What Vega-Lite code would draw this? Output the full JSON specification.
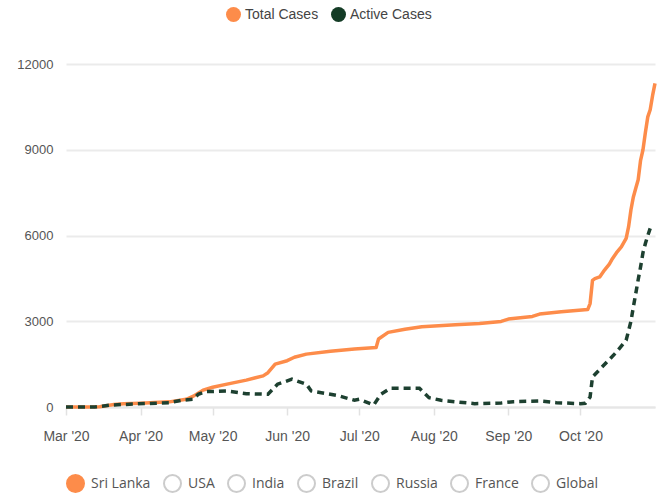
{
  "$schema": "https://vega.github.io/schema/vega-lite/v6.json",
  "width": 589,
  "height": 343,
  "autosize": {"type": "none"},
  "padding": {"left": 66, "top": 64, "right": 4, "bottom": 88},
  "background": "white",
  "config": {"view": {"stroke": null}, "font": "Liberation Sans"},
  "datasets": {
    "cases": [
      {"date": "2020/03/01", "series": "Total Cases", "value": 1},
      {"date": "2020/03/10", "series": "Total Cases", "value": 1},
      {"date": "2020/03/15", "series": "Total Cases", "value": 10},
      {"date": "2020/03/21", "series": "Total Cases", "value": 90},
      {"date": "2020/03/25", "series": "Total Cases", "value": 110},
      {"date": "2020/04/01", "series": "Total Cases", "value": 135},
      {"date": "2020/04/07", "series": "Total Cases", "value": 160},
      {"date": "2020/04/13", "series": "Total Cases", "value": 180},
      {"date": "2020/04/20", "series": "Total Cases", "value": 270},
      {"date": "2020/04/23", "series": "Total Cases", "value": 380},
      {"date": "2020/04/27", "series": "Total Cases", "value": 590},
      {"date": "2020/05/01", "series": "Total Cases", "value": 690},
      {"date": "2020/05/07", "series": "Total Cases", "value": 800},
      {"date": "2020/05/15", "series": "Total Cases", "value": 940},
      {"date": "2020/05/22", "series": "Total Cases", "value": 1090},
      {"date": "2020/05/24", "series": "Total Cases", "value": 1200},
      {"date": "2020/05/27", "series": "Total Cases", "value": 1500},
      {"date": "2020/06/01", "series": "Total Cases", "value": 1620},
      {"date": "2020/06/04", "series": "Total Cases", "value": 1740},
      {"date": "2020/06/09", "series": "Total Cases", "value": 1850},
      {"date": "2020/06/19", "series": "Total Cases", "value": 1950},
      {"date": "2020/06/29", "series": "Total Cases", "value": 2030},
      {"date": "2020/07/08", "series": "Total Cases", "value": 2085},
      {"date": "2020/07/09", "series": "Total Cases", "value": 2380},
      {"date": "2020/07/13", "series": "Total Cases", "value": 2610},
      {"date": "2020/07/20", "series": "Total Cases", "value": 2720},
      {"date": "2020/07/27", "series": "Total Cases", "value": 2810},
      {"date": "2020/08/10", "series": "Total Cases", "value": 2875},
      {"date": "2020/08/20", "series": "Total Cases", "value": 2925},
      {"date": "2020/08/29", "series": "Total Cases", "value": 2995},
      {"date": "2020/09/01", "series": "Total Cases", "value": 3075},
      {"date": "2020/09/11", "series": "Total Cases", "value": 3170},
      {"date": "2020/09/14", "series": "Total Cases", "value": 3250},
      {"date": "2020/09/23", "series": "Total Cases", "value": 3330},
      {"date": "2020/10/04", "series": "Total Cases", "value": 3410},
      {"date": "2020/10/05", "series": "Total Cases", "value": 3620},
      {"date": "2020/10/06", "series": "Total Cases", "value": 4430},
      {"date": "2020/10/07", "series": "Total Cases", "value": 4490},
      {"date": "2020/10/09", "series": "Total Cases", "value": 4550},
      {"date": "2020/10/11", "series": "Total Cases", "value": 4790},
      {"date": "2020/10/13", "series": "Total Cases", "value": 5000},
      {"date": "2020/10/14", "series": "Total Cases", "value": 5150},
      {"date": "2020/10/16", "series": "Total Cases", "value": 5400},
      {"date": "2020/10/18", "series": "Total Cases", "value": 5600},
      {"date": "2020/10/20", "series": "Total Cases", "value": 5900},
      {"date": "2020/10/21", "series": "Total Cases", "value": 6300},
      {"date": "2020/10/22", "series": "Total Cases", "value": 6900},
      {"date": "2020/10/23", "series": "Total Cases", "value": 7350},
      {"date": "2020/10/24", "series": "Total Cases", "value": 7650},
      {"date": "2020/10/25", "series": "Total Cases", "value": 7950},
      {"date": "2020/10/26", "series": "Total Cases", "value": 8630},
      {"date": "2020/10/27", "series": "Total Cases", "value": 9000},
      {"date": "2020/10/28", "series": "Total Cases", "value": 9600},
      {"date": "2020/10/29", "series": "Total Cases", "value": 10150},
      {"date": "2020/10/30", "series": "Total Cases", "value": 10400},
      {"date": "2020/10/31", "series": "Total Cases", "value": 10900},
      {"date": "2020/11/01", "series": "Total Cases", "value": 11320},
      {"date": "2020/03/01", "series": "Active Cases", "value": 0},
      {"date": "2020/03/13", "series": "Active Cases", "value": 0},
      {"date": "2020/03/20", "series": "Active Cases", "value": 70},
      {"date": "2020/03/31", "series": "Active Cases", "value": 110},
      {"date": "2020/04/13", "series": "Active Cases", "value": 150},
      {"date": "2020/04/18", "series": "Active Cases", "value": 235},
      {"date": "2020/04/23", "series": "Active Cases", "value": 270},
      {"date": "2020/04/25", "series": "Active Cases", "value": 445},
      {"date": "2020/04/28", "series": "Active Cases", "value": 537},
      {"date": "2020/05/07", "series": "Active Cases", "value": 560},
      {"date": "2020/05/15", "series": "Active Cases", "value": 467},
      {"date": "2020/05/24", "series": "Active Cases", "value": 445},
      {"date": "2020/05/28", "series": "Active Cases", "value": 797},
      {"date": "2020/06/03", "series": "Active Cases", "value": 972},
      {"date": "2020/06/09", "series": "Active Cases", "value": 797},
      {"date": "2020/06/11", "series": "Active Cases", "value": 561},
      {"date": "2020/06/22", "series": "Active Cases", "value": 400},
      {"date": "2020/06/29", "series": "Active Cases", "value": 235},
      {"date": "2020/07/01", "series": "Active Cases", "value": 270},
      {"date": "2020/07/07", "series": "Active Cases", "value": 70},
      {"date": "2020/07/10", "series": "Active Cases", "value": 445},
      {"date": "2020/07/14", "series": "Active Cases", "value": 656},
      {"date": "2020/07/26", "series": "Active Cases", "value": 656},
      {"date": "2020/07/30", "series": "Active Cases", "value": 327},
      {"date": "2020/08/04", "series": "Active Cases", "value": 234},
      {"date": "2020/08/18", "series": "Active Cases", "value": 117},
      {"date": "2020/08/29", "series": "Active Cases", "value": 140},
      {"date": "2020/09/03", "series": "Active Cases", "value": 187},
      {"date": "2020/09/14", "series": "Active Cases", "value": 210},
      {"date": "2020/09/21", "series": "Active Cases", "value": 152},
      {"date": "2020/10/01", "series": "Active Cases", "value": 117},
      {"date": "2020/10/03", "series": "Active Cases", "value": 130},
      {"date": "2020/10/05", "series": "Active Cases", "value": 350},
      {"date": "2020/10/06", "series": "Active Cases", "value": 1050},
      {"date": "2020/10/08", "series": "Active Cases", "value": 1225},
      {"date": "2020/10/12", "series": "Active Cases", "value": 1575},
      {"date": "2020/10/16", "series": "Active Cases", "value": 1925},
      {"date": "2020/10/20", "series": "Active Cases", "value": 2335},
      {"date": "2020/10/22", "series": "Active Cases", "value": 3000},
      {"date": "2020/10/23", "series": "Active Cases", "value": 3500},
      {"date": "2020/10/24", "series": "Active Cases", "value": 3970},
      {"date": "2020/10/25", "series": "Active Cases", "value": 4450},
      {"date": "2020/10/26", "series": "Active Cases", "value": 4900},
      {"date": "2020/10/27", "series": "Active Cases", "value": 5400},
      {"date": "2020/10/28", "series": "Active Cases", "value": 5720},
      {"date": "2020/10/29", "series": "Active Cases", "value": 6000},
      {"date": "2020/10/30", "series": "Active Cases", "value": 6250}
    ],
    "seriesNames": [{"series": "Total Cases"}, {"series": "Active Cases"}],
    "countries": [
      {"country": "Sri Lanka"}, {"country": "USA"}, {"country": "India"}, {"country": "Brazil"},
      {"country": "Russia"}, {"country": "France"}, {"country": "Global"}
    ]
  },
  "layer": [
    {
      "data": {"name": "cases"},
      "transform": [{"filter": "datum.series == 'Total Cases'"}],
      "mark": {"type": "line", "color": "#fd8c4a", "strokeWidth": 3.5, "strokeJoin": "round"},
      "encoding": {
        "x": {
          "field": "date", "type": "temporal",
          "scale": {"domain": [{"year": 2020, "month": 3, "date": 1}, {"year": 2020, "month": 11, "date": 1}]},
          "axis": {
            "title": null,
            "values": [
              {"year": 2020, "month": 3, "date": 1}, {"year": 2020, "month": 4, "date": 1},
              {"year": 2020, "month": 5, "date": 1}, {"year": 2020, "month": 6, "date": 1},
              {"year": 2020, "month": 7, "date": 1}, {"year": 2020, "month": 8, "date": 1},
              {"year": 2020, "month": 9, "date": 1}, {"year": 2020, "month": 10, "date": 1}
            ],
            "format": "%b '%y",
            "labelFont": "Liberation Sans", "labelFontSize": 14, "labelColor": "#555",
            "labelPadding": 14, "labelFlush": false, "labelOverlap": false,
            "tickSize": 8, "tickColor": "#e2e2e2", "tickWidth": 1.5,
            "domainColor": "#e6e6e6", "domainWidth": 2, "grid": false
          }
        },
        "y": {
          "field": "value", "type": "quantitative",
          "scale": {"domain": [0, 12000], "nice": false},
          "axis": {
            "title": null, "values": [0, 3000, 6000, 9000, 12000], "format": "d",
            "domain": false, "ticks": false, "tickSize": 0, "labelPadding": 13,
            "labelFont": "Liberation Sans", "labelFontSize": 13, "labelColor": "#555",
            "grid": true, "gridColor": "#ebebeb", "gridWidth": 2
          }
        }
      }
    },
    {
      "data": {"name": "cases"},
      "transform": [{"filter": "datum.series == 'Active Cases'"}],
      "mark": {"type": "line", "color": "#1d4030", "strokeWidth": 3.5, "strokeDash": [7, 5], "strokeCap": "butt"},
      "encoding": {
        "x": {"field": "date", "type": "temporal"},
        "y": {"field": "value", "type": "quantitative"}
      }
    },
    {
      "data": {"name": "seriesNames"},
      "transform": [{"filter": "false"}],
      "mark": {"type": "point", "filled": true},
      "encoding": {
        "color": {
          "field": "series", "type": "nominal",
          "scale": {"domain": ["Total Cases", "Active Cases"], "range": ["#fd8c4a", "#143c26"]},
          "legend": {
            "title": null, "orient": "none", "legendX": 160, "legendY": -57,
            "direction": "horizontal", "columns": 2, "padding": 0,
            "symbolType": "circle", "symbolSize": 225, "symbolStrokeWidth": 0, "symbolOpacity": 1,
            "labelFont": "Liberation Sans", "labelFontSize": 14, "labelColor": "#444",
            "labelOffset": 4, "columnPadding": 12
          }
        }
      }
    },
    {
      "data": {"name": "countries"},
      "transform": [{"filter": "false"}],
      "mark": {"type": "point", "filled": true},
      "encoding": {
        "fill": {
          "field": "country", "type": "nominal",
          "scale": {
            "domain": ["Sri Lanka", "USA", "India", "Brazil", "Russia", "France", "Global"],
            "range": ["#fd8c4a", "#ffffff", "#ffffff", "#ffffff", "#ffffff", "#ffffff", "#ffffff"]
          },
          "legend": {
            "title": null, "orient": "none", "legendX": 0, "legendY": 410,
            "direction": "horizontal", "columns": 7, "padding": 0,
            "symbolType": "circle", "symbolSize": 289, "symbolStrokeWidth": 2, "symbolOpacity": 1,
            "labelFont": "Open Sans", "labelFontSize": 14, "labelColor": "#555",
            "labelOffset": 6, "columnPadding": 9
          }
        },
        "stroke": {
          "field": "country", "type": "nominal",
          "scale": {
            "domain": ["Sri Lanka", "USA", "India", "Brazil", "Russia", "France", "Global"],
            "range": ["#fd8c4a", "#cccccc", "#cccccc", "#cccccc", "#cccccc", "#cccccc", "#cccccc"]
          },
          "legend": {
            "title": null, "orient": "none", "legendX": 0, "legendY": 410,
            "direction": "horizontal", "columns": 7, "padding": 0,
            "symbolType": "circle", "symbolSize": 289, "symbolStrokeWidth": 2, "symbolOpacity": 1,
            "labelFont": "Open Sans", "labelFontSize": 14, "labelColor": "#555",
            "labelOffset": 6, "columnPadding": 9
          }
        }
      }
    }
  ]
}
